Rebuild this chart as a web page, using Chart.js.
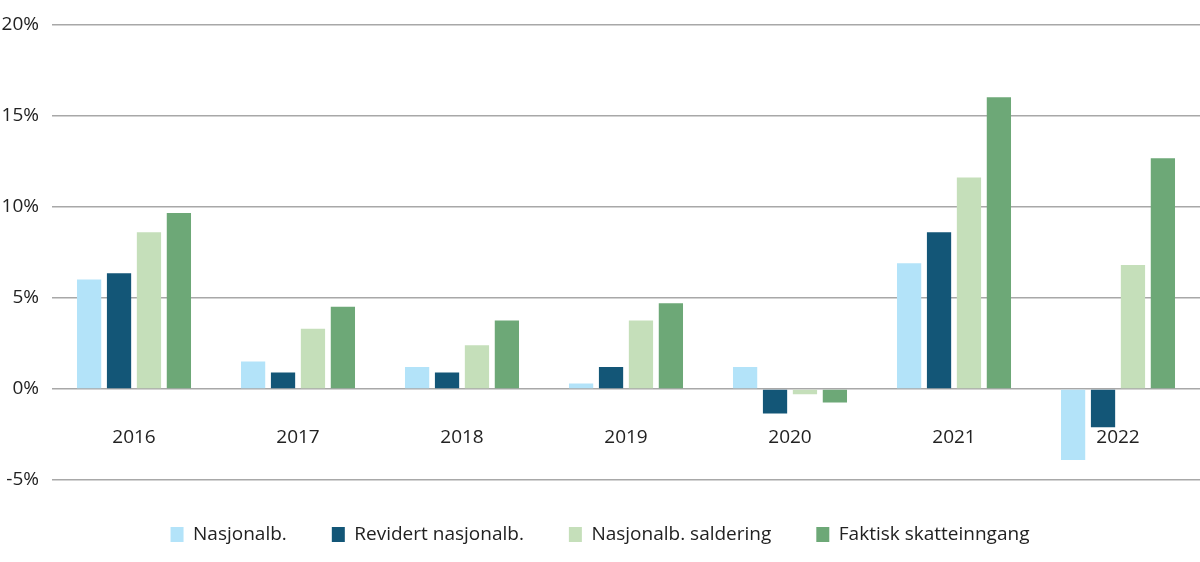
<!DOCTYPE html>
<html>
<head>
<meta charset="utf-8">
<script src="https://cdn.jsdelivr.net/npm/chart.js@4/dist/chart.umd.min.js"></script>
<style>
  html, body { margin: 0; padding: 0; background: #fff; }
  #wrap { width: 1200px; height: 562px; position: relative; }
</style>
</head>
<body>
<div id="wrap"><canvas id="taxChart"></canvas></div>
<script>
// Values (percent)
const years = ["2016", "2017", "2018", "2019", "2020", "2021", "2022"];
const nasjonalb = [6.0, 1.5, 1.2, 0.3, 1.2, 6.9, -3.9];
const revidert = [6.35, 0.9, 0.9, 1.2, -1.35, 8.6, -2.1];
const saldering = [8.6, 3.3, 2.4, 3.75, -0.3, 11.6, 6.8];
const faktisk = [9.65, 4.5, 3.75, 4.7, -0.75, 16.0, 12.65];
const yTicks = [-5, 0, 5, 10, 15, 20];

const seriesNames = ["Nasjonalb.", "Revidert nasjonalb.", "Nasjonalb. saldering", "Faktisk skatteinngang"];
const seriesColors = ["#b3e3f9", "#135677", "#c5dfba", "#6da877"];
const seriesData = [nasjonalb, revidert, saldering, faktisk];

const fontFamily = "'Open Sans', 'Noto Sans', sans-serif";
const LEGEND_HEIGHT = 82; // space under the plot, legend row sits in it

// keep legend block a fixed height so the plot bottom lands where the reference has it
const legendHeightPlugin = {
  id: "legendHeight",
  beforeInit: function (chart) {
    const origFit = chart.legend.fit;
    chart.legend.fit = function () {
      origFit.bind(chart.legend)();
      this.height = LEGEND_HEIGHT;
    };
  },
};

const TaxChart = {
  chart: null,

  init: function () {
    const ctx = document.getElementById("taxChart");

    const datasets = seriesData.map(function (vals, i) {
      return {
        label: seriesNames[i],
        data: vals,
        backgroundColor: seriesColors[i],
        borderWidth: 0,
        categoryPercentage: 0.73,
        barPercentage: 0.81,
      };
    });

    this.chart = new Chart(ctx, {
      type: "bar",
      data: { labels: years, datasets: datasets },
      plugins: [legendHeightPlugin],
      options: {
        responsive: true,
        maintainAspectRatio: false,
        animation: false,
        layout: { padding: { top: 22, right: 0, left: 0, bottom: 0 } },
        plugins: {
          tooltip: { enabled: false },
          legend: {
            position: "bottom",
            labels: {
              boxWidth: 13,
              boxHeight: 15,
              padding: 45,
              color: "#222",
              font: { family: fontFamily, size: 19 },
            },
          },
        },
        scales: {
          x: {
            position: { y: 0 },
            grid: { display: false, drawTicks: false },
            border: { display: false },
            ticks: {
              color: "#222",
              padding: 37,
              font: { family: fontFamily, size: 19 },
            },
          },
          y: {
            min: -5,
            max: 20,
            afterBuildTicks: function (axis) {
              axis.ticks = yTicks.map(function (v) { return { value: v }; });
            },
            afterFit: function (axis) {
              axis.width = 52;
            },
            grid: { color: "#a8a8a8", lineWidth: 1.5, drawTicks: false },
            border: { display: false },
            ticks: {
              color: "#222",
              padding: 13,
              font: { family: fontFamily, size: 19 },
              callback: function (v) { return v + "%"; },
            },
          },
        },
      },
    });
  },
};

TaxChart.init();
</script>
</body>
</html>
